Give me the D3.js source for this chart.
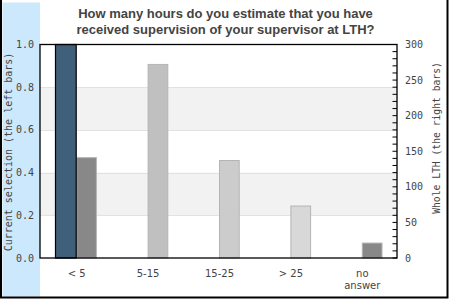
<!DOCTYPE html>
<html><head><meta charset="utf-8">
<script src="https://cdn.jsdelivr.net/npm/d3@7"></script>
<style>body{margin:0;background:#fff}svg{display:block}</style>
</head><body>
<script>
const categories = ["< 5", "5-15", "15-25", "> 25", "no answer"];
const selectionValues = [1.0, 0, 0, 0, 0];
const lthValues = [141, 272, 137, 73, 21];
const lthColors = ["#888888", "#c0c0c0", "#cccccc", "#d8d8d8", "#888888"];
const leftTicks = [0, 0.2, 0.4, 0.6, 0.8, 1.0];
const rightTicks = [0, 50, 100, 150, 200, 250, 300];
const titleLines = ["How many hours do you estimate that you have", "received supervision of your supervisor at LTH?"];

const W = 450, H = 300;
const L = 40, R = 397, T = 44.5, B = 258;
const svg = d3.select("body").append("svg").attr("width", W).attr("height", H);

svg.append("rect").attr("x", 2.5).attr("y", 2.5).attr("width", 37.5).attr("height", 294).attr("fill", "#cce8fc");

const x = d3.scaleBand().domain(categories).range([L + 0.5, R + 0.5]);
const yL = d3.scaleLinear().domain([0, 1]).range([B, T]);
const yR = d3.scaleLinear().domain([0, 300]).range([B, T]);

// bands
[[0.2, 0.4], [0.6, 0.8]].forEach(([a, b]) => {
  svg.append("rect").attr("x", L).attr("y", yL(b)).attr("width", R - L).attr("height", yL(a) - yL(b)).attr("fill", "#f2f2f2");
});
[0.2, 0.4, 0.6, 0.8].forEach(v => {
  svg.append("line").attr("x1", L).attr("x2", R).attr("y1", Math.round(yL(v)) + 0.5).attr("y2", Math.round(yL(v)) + 0.5)
    .attr("stroke", "#e2e2e2").attr("stroke-width", 1);
});

const bw = x.bandwidth() * 0.29;
// right bars (LTH)
svg.selectAll(".lth").data(categories).enter().append("rect")
  .attr("x", d => x(d) + x.bandwidth() / 2 + 0.5)
  .attr("y", (d, i) => yR(lthValues[i]))
  .attr("width", bw - 1)
  .attr("height", (d, i) => B - yR(lthValues[i]))
  .attr("fill", (d, i) => lthColors[i])
  .attr("stroke", "#b4b4b4").attr("stroke-width", 1);
// left bars (selection)
svg.selectAll(".sel").data(categories.filter((d, i) => selectionValues[i] > 0)).enter().append("rect")
  .attr("x", d => x(d) + x.bandwidth() / 2 - bw)
  .attr("y", d => yL(selectionValues[categories.indexOf(d)]))
  .attr("width", bw)
  .attr("height", d => B - yL(selectionValues[categories.indexOf(d)]))
  .attr("fill", "#3f5f7b").attr("stroke", "#000").attr("stroke-width", 1.2);

// frame of plot
svg.append("rect").attr("x", L).attr("y", T).attr("width", R - L).attr("height", B - T)
  .attr("fill", "none").attr("stroke", "#000").attr("stroke-width", 1.3);

// right minor ticks
d3.range(0, 301, 10).forEach(v => {
  svg.append("line").attr("x1", R - 4.5).attr("x2", R).attr("y1", yR(v)).attr("y2", yR(v)).attr("stroke", "#000").attr("stroke-width", 1);
});

const mono = "'DejaVu Sans Mono', monospace";
const tc = "#444";
// left tick labels
svg.selectAll(".lt").data(leftTicks).enter().append("text")
  .attr("x", 34).attr("y", d => yL(d)).attr("dy", "0.35em").attr("text-anchor", "end")
  .attr("font-family", mono).attr("font-size", 10).attr("fill", tc)
  .text(d => d.toFixed(1));
// right tick labels
svg.selectAll(".rt").data(rightTicks).enter().append("text")
  .attr("x", 405).attr("y", d => yR(d)).attr("dy", "0.35em")
  .attr("font-family", mono).attr("font-size", 10).attr("fill", tc)
  .text(d => d);

// category labels
categories.forEach(c => {
  const words = c === "no answer" ? ["no", "answer"] : [c];
  words.forEach((w, j) => {
    svg.append("text").attr("x", x(c) + x.bandwidth() / 2 + 0.5).attr("y", 277 + j * 12)
      .attr("text-anchor", "middle").attr("font-family", "'DejaVu Sans', sans-serif").attr("font-size", 10).attr("fill", tc)
      .text(w);
  });
});

// axis titles
svg.append("text").attr("transform", "translate(12,152) rotate(-90)").attr("text-anchor", "middle")
  .attr("font-family", mono).attr("font-size", 10).attr("fill", tc).text("Current selection (the left bars)");
svg.append("text").attr("transform", "translate(440,138) rotate(-90)").attr("text-anchor", "middle")
  .attr("font-family", mono).attr("font-size", 9.7).attr("fill", tc).text("Whole LTH (the right bars)");

// title
titleLines.forEach((t, i) => {
  svg.append("text").attr("x", 225.5).attr("y", 18 + i * 16).attr("text-anchor", "middle")
    .attr("font-family", "'Liberation Sans', Arial, sans-serif").attr("font-weight", "bold").attr("font-size", 13).attr("fill", "#444")
    .text(t);
});

// outer frame (left, right, bottom)
svg.append("path").attr("d", "M1,0 V297.5 H447.5 V0").attr("fill", "none").attr("stroke", "#000").attr("stroke-width", 2);
</script>
</body></html>
